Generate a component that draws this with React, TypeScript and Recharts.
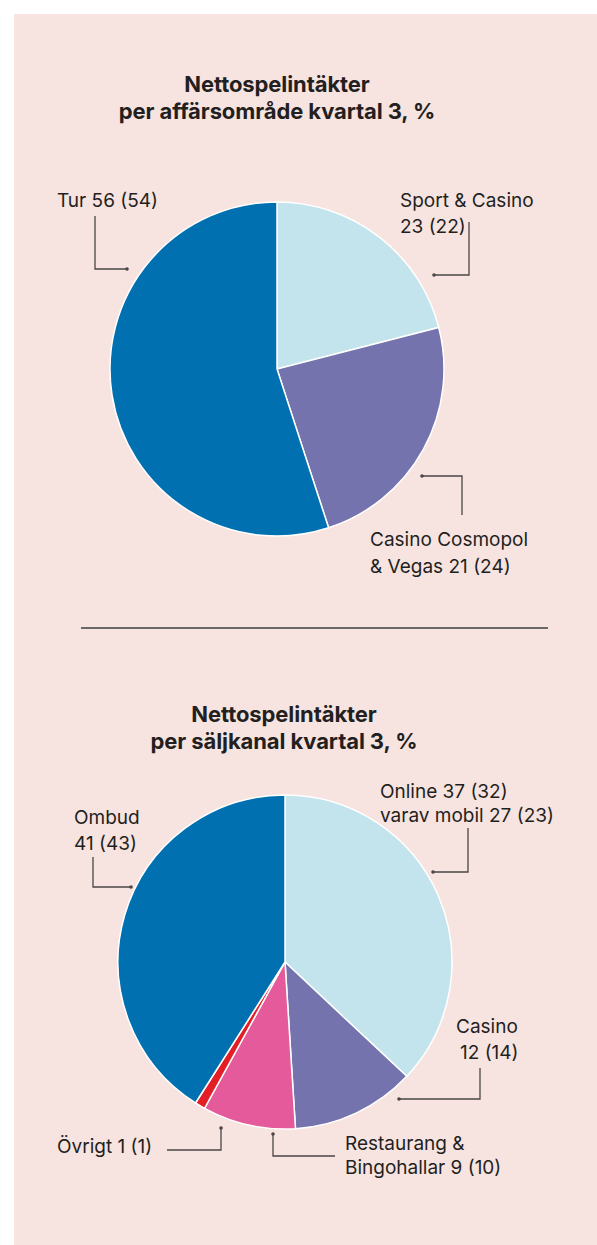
import React from 'react';
import { PieChart, Pie, Cell } from 'recharts';

// ---- data ----
const SEGMENT_NAMES = ['Sport & Casino', 'Casino Cosmopol & Vegas', 'Tur'];
const SEGMENT_SHARES = [21, 24, 55]; // slice sizes as drawn
const SEGMENT_CURRENT = [23, 21, 56];
const SEGMENT_PREVIOUS = [22, 24, 54];

const CHANNEL_NAMES = ['Online', 'Casino', 'Restaurang & Bingohallar', 'Övrigt', 'Ombud'];
const CHANNEL_SHARES = [37, 12, 9, 1, 41];
const CHANNEL_CURRENT = [37, 12, 9, 1, 41];
const CHANNEL_PREVIOUS = [32, 14, 10, 1, 43];
const MOBILE_CURRENT = 27;
const MOBILE_PREVIOUS = 23;

const TITLE_1 = ['Nettospelintäkter', 'per affärsområde kvartal 3, %'];
const TITLE_2 = ['Nettospelintäkter', 'per säljkanal kvartal 3, %'];

// ---- styles ----
const SEGMENT_COLORS = ['#c3e4ec', '#7473ae', '#0070b1'];
const CHANNEL_COLORS = ['#c3e4ec', '#7473ae', '#e45a9a', '#e31e26', '#0070b1'];
const BG = '#f7e4e1';
const TEXT = '#231f20';
const LINE = '#4a4546';
const FONT = 'Inter, "Noto Sans", sans-serif';
const FS = 19;

const segmentData = SEGMENT_NAMES.map((name, i) => ({
  name,
  value: SEGMENT_SHARES[i],
  lines:
    i === 0
      ? ['Sport & Casino', `${SEGMENT_CURRENT[i]} (${SEGMENT_PREVIOUS[i]})`]
      : i === 1
      ? ['Casino Cosmopol', `& Vegas ${SEGMENT_CURRENT[i]} (${SEGMENT_PREVIOUS[i]})`]
      : [`Tur ${SEGMENT_CURRENT[i]} (${SEGMENT_PREVIOUS[i]})`],
}));

const channelData = CHANNEL_NAMES.map((name, i) => ({
  name,
  value: CHANNEL_SHARES[i],
  lines:
    i === 0
      ? [`Online ${CHANNEL_CURRENT[i]} (${CHANNEL_PREVIOUS[i]})`, `varav mobil ${MOBILE_CURRENT} (${MOBILE_PREVIOUS})`]
      : i === 1
      ? ['Casino', `${CHANNEL_CURRENT[i]} (${CHANNEL_PREVIOUS[i]})`]
      : i === 2
      ? ['Restaurang &', `Bingohallar ${CHANNEL_CURRENT[i]} (${CHANNEL_PREVIOUS[i]})`]
      : i === 3
      ? [`Övrigt ${CHANNEL_CURRENT[i]} (${CHANNEL_PREVIOUS[i]})`]
      : ['Ombud', `${CHANNEL_CURRENT[i]} (${CHANNEL_PREVIOUS[i]})`],
}));

// label layout: offsets from the pie centre
type Lay = { pts: number[][]; tx: number[]; ty: number[] };
const SEGMENT_LAYOUT: Lay[] = [
  { pts: [[157, -94], [192, -94], [192, -147]], tx: [123, 123], ty: [-169, -143] },
  { pts: [[145, 107], [185, 107], [185, 146]], tx: [93, 93], ty: [170, 197] },
  { pts: [[-150, -100], [-182, -100], [-182, -153]], tx: [-220], ty: [-169] },
];
const CHANNEL_LAYOUT: Lay[] = [
  { pts: [[148, -90], [183, -90], [183, -134]], tx: [95, 95], ty: [-171, -147] },
  { pts: [[114, 137], [195, 137], [195, 106]], tx: [171, 175], ty: [64, 90] },
  { pts: [[-12, 172], [-12, 194], [50, 194]], tx: [60, 60], ty: [181, 205] },
  { pts: [[-64, 166], [-64, 188], [-118, 188]], tx: [-228], ty: [184] },
  { pts: [[-154, -75], [-192, -75], [-192, -105]], tx: [-211, -211], ty: [-145, -119] },
];

const makeLabel = (layout: Lay[]) => (props: any) => {
  const { cx, cy, index, payload } = props;
  const lay = layout[index];
  const lines: string[] = (payload && payload.lines) || props.lines || [];
  const pts = lay.pts.map(([x, y]) => `${cx + x},${cy + y}`).join(' ');
  return (
    <g key={`lbl-${index}`}>
      <polyline points={pts} fill="none" stroke={LINE} strokeWidth={1.3} />
      <circle cx={cx + lay.pts[0][0]} cy={cy + lay.pts[0][1]} r={1.8} fill={LINE} />
      {lines.map((t, k) => (
        <text
          key={k}
          x={cx + lay.tx[k]}
          y={cy + lay.ty[k]}
          dominantBaseline="central"
          textAnchor="start"
          fontFamily={FONT}
          fontSize={FS}
          fill={TEXT}
        >
          {t}
        </text>
      ))}
    </g>
  );
};

const titleStyle = (top: number, left: number): React.CSSProperties => ({
  position: 'absolute',
  top,
  left,
  width: 420,
  textAlign: 'center',
  fontFamily: FONT,
  fontWeight: 700,
  fontSize: 22,
  lineHeight: '27px',
  color: TEXT,
  letterSpacing: '-0.1px',
});

export default function App() {
  return (
    <div style={{ position: 'absolute', left: 0, top: 0, width: 597, height: 1245, background: '#ffffff', overflow: 'hidden' }}>
      <div style={{ position: 'absolute', left: 14, top: 14, width: 583, height: 1231, background: BG }} />
      <div style={titleStyle(71, 277 - 210)}>
        {TITLE_1[0]}
        <br />
        {TITLE_1[1]}
      </div>
      <div style={titleStyle(701, 284 - 210)}>
        {TITLE_2[0]}
        <br />
        {TITLE_2[1]}
      </div>
      <div style={{ position: 'absolute', left: 81, top: 627, width: 467, height: 1.5, background: '#6b6668' }} />
      <div style={{ position: 'absolute', left: 0, top: 0 }}>
        <PieChart width={597} height={1245} margin={{ top: 0, right: 0, bottom: 0, left: 0 }}>
          <Pie
            data={segmentData}
            dataKey="value"
            cx={277}
            cy={369}
            outerRadius={167}
            startAngle={90}
            endAngle={-270}
            stroke="#ffffff"
            strokeWidth={1.5}
            isAnimationActive={false}
            labelLine={false}
            label={makeLabel(SEGMENT_LAYOUT)}
          >
            {segmentData.map((d, i) => (
              <Cell key={d.name} fill={SEGMENT_COLORS[i]} />
            ))}
          </Pie>
          <Pie
            data={channelData}
            dataKey="value"
            cx={285}
            cy={962}
            outerRadius={167}
            startAngle={90}
            endAngle={-270}
            stroke="#ffffff"
            strokeWidth={1.5}
            isAnimationActive={false}
            labelLine={false}
            label={makeLabel(CHANNEL_LAYOUT)}
          >
            {channelData.map((d, i) => (
              <Cell key={d.name} fill={CHANNEL_COLORS[i]} />
            ))}
          </Pie>
        </PieChart>
      </div>
    </div>
  );
}
